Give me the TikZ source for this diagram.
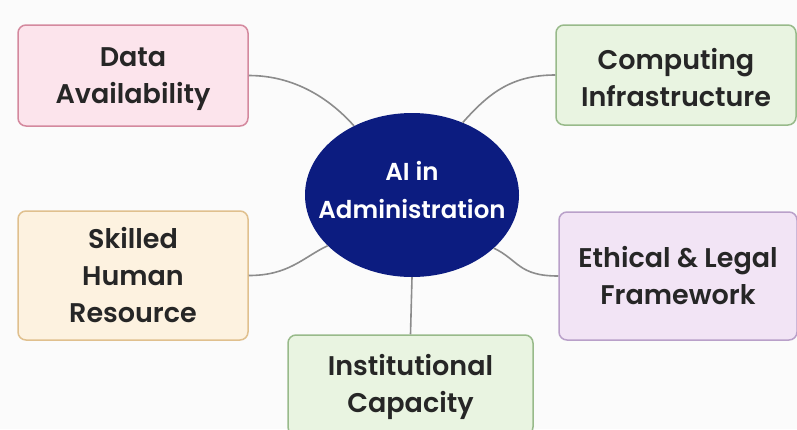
\documentclass[tikz,border=0pt]{standalone}
\usepackage{fontspec}
\setmainfont{Poppins}[BoldFont={* SemiBold}]
\usetikzlibrary{shapes.geometric}
\definecolor{bg}{HTML}{FBFBFB}
\definecolor{pinkF}{HTML}{FCE4EC}
\definecolor{pinkD}{HTML}{D4899E}
\definecolor{greenF}{HTML}{E9F4E1}
\definecolor{greenD}{HTML}{98BA8A}
\definecolor{creamF}{HTML}{FDF2E0}
\definecolor{creamD}{HTML}{E0C08E}
\definecolor{purpF}{HTML}{F2E4F5}
\definecolor{purpD}{HTML}{B9A0C9}
\definecolor{navy}{HTML}{0C1C80}
\definecolor{conn}{HTML}{8C8C8C}
\newcommand{\firstline}{\rule{0pt}{26pt}}
\begin{document}
\begin{tikzpicture}[x=1pt,y=-1pt,
  topic/.style={draw, line width=1.5pt, rounded corners=8pt, align=center,
    font=\fontsize{27}{37}\selectfont\bfseries, text=black!85, inner sep=0pt},
  hub/.style={ellipse, fill=navy, minimum width=214pt, minimum height=164pt, inner sep=0pt},
  hubtext/.style={align=center, font=\fontsize{24.5}{38}\selectfont\bfseries, text=white, inner sep=0pt},
  link/.style={draw=conn, line width=1.6pt}]
\fill[bg] (0,0) rectangle (797,429);
\useasboundingbox (0,0) rectangle (797,429);
\node[hub] (ell) at (412,195) {};
\node[hubtext] (hubt) at (412,190) {AI in\\Administration};
\node[topic, fill=pinkF, draw=pinkD, minimum width=230pt, minimum height=101pt] (da) at (133,75.5) {\firstline Data\\Availability};
\node[topic, fill=greenF, draw=greenD, minimum width=240pt, minimum height=100pt] (ci) at (676,75) {\firstline Computing\\Infrastructure};
\node[topic, fill=creamF, draw=creamD, minimum width=230pt, minimum height=129pt] (sh) at (133,275.5) {Skilled\\Human\\Resource};
\node[topic, fill=purpF, draw=purpD, minimum width=238pt, minimum height=128pt] (el) at (678,276) {Ethical \& Legal\\Framework};
\node[topic, fill=greenF, draw=greenD, minimum width=245pt, minimum height=100pt] (ic) at (410.5,385) {\firstline Institutional\\Capacity};
\draw[link] (da.east) .. controls +(45,0) and +(-25,-28) .. (ell.130);
\draw[link] (ci.west) .. controls +(-45,0) and +(25,-28) .. (ell.55);
\draw[link] (sh.east) .. controls +(40,0) and +(-25,12) .. (ell.211);
\draw[link] (el.west) .. controls +(-40,0) and +(25,12) .. (ell.327);
\draw[link] (ell.south) -- (ic.north);
\end{tikzpicture}
\end{document}
